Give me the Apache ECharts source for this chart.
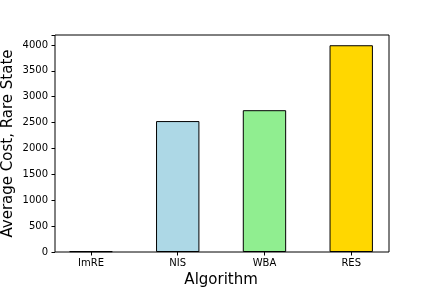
<!DOCTYPE html>
<html>
<head>
<meta charset="utf-8">
<script src="https://cdn.jsdelivr.net/npm/echarts@6/dist/echarts.min.js"></script>
<style>html,body{margin:0;padding:0;background:#fff;}#c{width:432px;height:288px;}</style>
</head>
<body>
<div id="c"></div>
<script>
var categories = ['ImRE', 'NIS', 'WBA', 'RES'];
var values = [15, 2530, 2740, 3995];
var barColors = ['#F08080', '#ADD8E6', '#90EE90', '#FFD700'];
var yTicks = [0, 500, 1000, 1500, 2000, 2500, 3000, 3500, 4000];

var yMax = 4193;
var font = 'DejaVu Sans';
var chart = echarts.init(document.getElementById('c'), null, {renderer: 'canvas'});
chart.setOption({
  animation: false,
  backgroundColor: '#fff',
  grid: [
    {left: 55, right: 43, top: 35, bottom: 36, show: true, borderColor: '#000', borderWidth: 1, backgroundColor: 'transparent', z: 10, containLabel: false, outerBoundsMode: 'none'},
    {left: 47.6, right: 37.4, top: 35, bottom: 36, containLabel: false, outerBoundsMode: 'none'}
  ],
  xAxis: [
    {gridIndex: 0, type: 'value', min: 0, max: 1, show: false},
    {gridIndex: 1, type: 'category', data: categories,
     axisLine: {show: false},
     axisTick: {show: true, alignWithLabel: true, length: 3.5, lineStyle: {color: '#000', width: 1}},
     axisLabel: {color: '#000', fontFamily: font, fontSize: 10, margin: 6},
     name: 'Algorithm', nameLocation: 'middle', nameGap: 21, nameMoveOverlap: false,
     nameTextStyle: {color: '#000', fontFamily: font, fontSize: 15}}
  ],
  yAxis: [
    {gridIndex: 0, type: 'value', min: 0, max: yMax, interval: 500,
     axisLine: {show: false},
     axisTick: {show: true, length: 3.5, lineStyle: {color: '#000'}},
     splitLine: {show: false},
     axisLabel: {color: '#000', fontFamily: font, fontSize: 10, margin: 7,
       formatter: function (v) { return yTicks.indexOf(v) >= 0 ? String(v) : ''; }},
     name: 'Average Cost, Rare State', nameLocation: 'middle', nameGap: 39, nameMoveOverlap: false,
     nameTextStyle: {color: '#000', fontFamily: font, fontSize: 15}},
    {gridIndex: 1, type: 'value', min: 0, max: yMax, show: false, splitLine: {show: false}}
  ],
  series: [{
    type: 'bar',
    xAxisIndex: 1, yAxisIndex: 1,
    barWidth: '50%',
    data: values.map(function (v, i) {
      return {value: v, itemStyle: {color: barColors[i], borderColor: '#000', borderWidth: 1}};
    })
  }]
});
</script>
</body>
</html>
